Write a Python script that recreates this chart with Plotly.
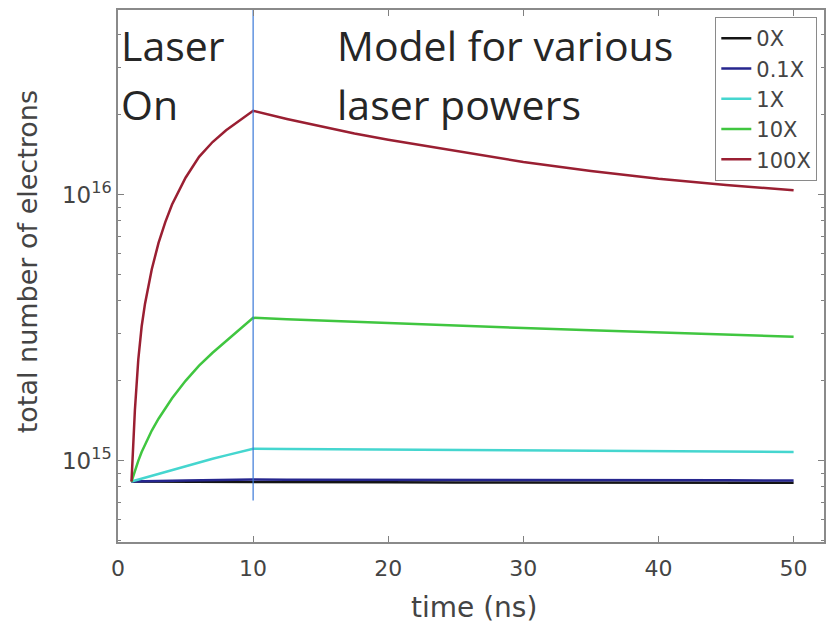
import plotly.graph_objects as go

# time axis (ns) and electron counts (units of 1e15) for each laser power
t_ns = [1, 1.25, 1.5, 1.75, 2, 2.5, 3, 3.5, 4, 5, 6, 7, 8, 9, 10,
        12.5, 15, 17.5, 20, 25, 30, 35, 40, 45, 50]

n_0x = [0.836, 0.836, 0.836, 0.836, 0.836, 0.835, 0.835, 0.835, 0.835, 0.834, 0.834, 0.834, 0.833, 0.833, 0.833,
        0.832, 0.832, 0.831, 0.831, 0.830, 0.830, 0.829, 0.829, 0.828, 0.828]
n_01x = [0.836, 0.837, 0.837, 0.838, 0.838, 0.839, 0.840, 0.841, 0.842, 0.843, 0.845, 0.846, 0.848, 0.849, 0.851,
         0.850, 0.850, 0.849, 0.849, 0.848, 0.847, 0.846, 0.845, 0.845, 0.844]
n_1x = [0.836, 0.843, 0.851, 0.858, 0.866, 0.881, 0.896, 0.911, 0.926, 0.956, 0.987, 1.018, 1.049, 1.080, 1.110,
        1.108, 1.106, 1.104, 1.102, 1.098, 1.094, 1.090, 1.087, 1.083, 1.080]
n_10x = [0.836, 0.92, 1.00, 1.08, 1.15, 1.30, 1.44, 1.58, 1.72, 2.00, 2.28, 2.55, 2.82, 3.12, 3.45,
         3.41, 3.37, 3.33, 3.30, 3.23, 3.16, 3.10, 3.04, 2.98, 2.93]
n_100x = [0.836, 1.55, 2.4, 3.2, 3.9, 5.25, 6.6, 7.9, 9.2, 11.6, 13.9, 15.8, 17.5, 19.1, 20.7,
          19.3, 18.1, 17.0, 16.1, 14.6, 13.3, 12.3, 11.5, 10.9, 10.4]

series_names = ["0X", "0.1X", "1X", "10X", "100X"]
series_values = [n_0x, n_01x, n_1x, n_10x, n_100x]
series_colors = ["#141414", "#26268e", "#45d6cf", "#40c640", "#9a1f32"]

laser_off_t = [10, 10]
laser_off_n = [7.1e14, 5.2e16]

x_ticks = [0, 10, 20, 30, 40, 50]
y_ticks = [1e15, 1e16]
y_ticktext = ["10<sup>15</sup>", "10<sup>16</sup>"]
y_minor = [m * 10 ** e for e in (14, 15, 16) for m in range(2, 10)]

scale = 1e15

fig = go.Figure()
for name, vals, col in zip(series_names, series_values, series_colors):
    fig.add_trace(go.Scatter(
        x=t_ns, y=[v * scale for v in vals], mode="lines", name=name,
        line=dict(color=col, width=2.5),
    ))

# end of the laser pulse
fig.add_trace(go.Scatter(
    x=laser_off_t, y=laser_off_n, mode="lines", showlegend=False,
    line=dict(color="#3a78d8", width=1.2), hoverinfo="skip",
))

W, H = 828, 624
L, R, T, B = 118, 2, 10, 82
pw, ph = W - L - R, H - T - B


def px(x):
    return (x - L) / pw


def py(y):
    return (H - B - y) / ph


axis_font = dict(family="DejaVu Sans", size=22, color="#444444")
note_font = dict(family="Open Sans", size=41, color="#262626")

annotations = [
    dict(text="Laser", x=px(119), y=py(45), xanchor="left", yanchor="middle"),
    dict(text="On", x=px(119), y=py(104), xanchor="left", yanchor="middle"),
    dict(text="Model for various", x=px(336), y=py(45), xanchor="left", yanchor="middle"),
    dict(text="laser powers", x=px(336), y=py(104), xanchor="left", yanchor="middle"),
]
for a in annotations:
    a.update(xref="paper", yref="paper", showarrow=False, font=note_font)

annotations.append(dict(
    text="time (ns)", xref="paper", yref="paper", x=px(475), y=py(607),
    xanchor="center", yanchor="middle", showarrow=False,
    font=dict(family="DejaVu Sans", size=28, color="#444444"),
))
annotations.append(dict(
    text="total number of electrons", xref="paper", yref="paper", x=px(27), y=py(262),
    xanchor="center", yanchor="middle", showarrow=False, textangle=-90,
    font=dict(family="DejaVu Sans", size=27, color="#444444"),
))

fig.update_layout(
    width=W, height=H,
    margin=dict(l=L, r=R, t=T, b=B),
    paper_bgcolor="white", plot_bgcolor="white",
    showlegend=True,
    legend=dict(
        x=px(717), y=py(17), xanchor="left", yanchor="top",
        bgcolor="white", bordercolor="#8a8a8a", borderwidth=1,
        font=dict(family="DejaVu Sans", size=21, color="#444444"),
        tracegroupgap=0, itemwidth=30,
    ),
    annotations=annotations,
)

fig.update_xaxes(
    range=[0, 52.25], tickvals=x_ticks, ticks="inside", ticklen=6,
    tickcolor="#808080", showline=True, linecolor="#8a8a8a", linewidth=1.5,
    mirror="ticks", showgrid=False, zeroline=False, tickfont=axis_font,
    ticklabelstandoff=6,
)
fig.update_yaxes(
    type="log", range=[14.695, 16.695], tickvals=y_ticks, ticktext=y_ticktext,
    ticks="inside", ticklen=6, tickcolor="#808080", showline=True,
    linecolor="#8a8a8a", linewidth=1.5, mirror="ticks", showgrid=False,
    zeroline=False, tickfont=dict(family="DejaVu Sans", size=23, color="#444444"),
    minor=dict(tickvals=y_minor, ticks="inside", ticklen=3, tickcolor="#808080",
               showgrid=False),
)

fig.write_html("out.html")
